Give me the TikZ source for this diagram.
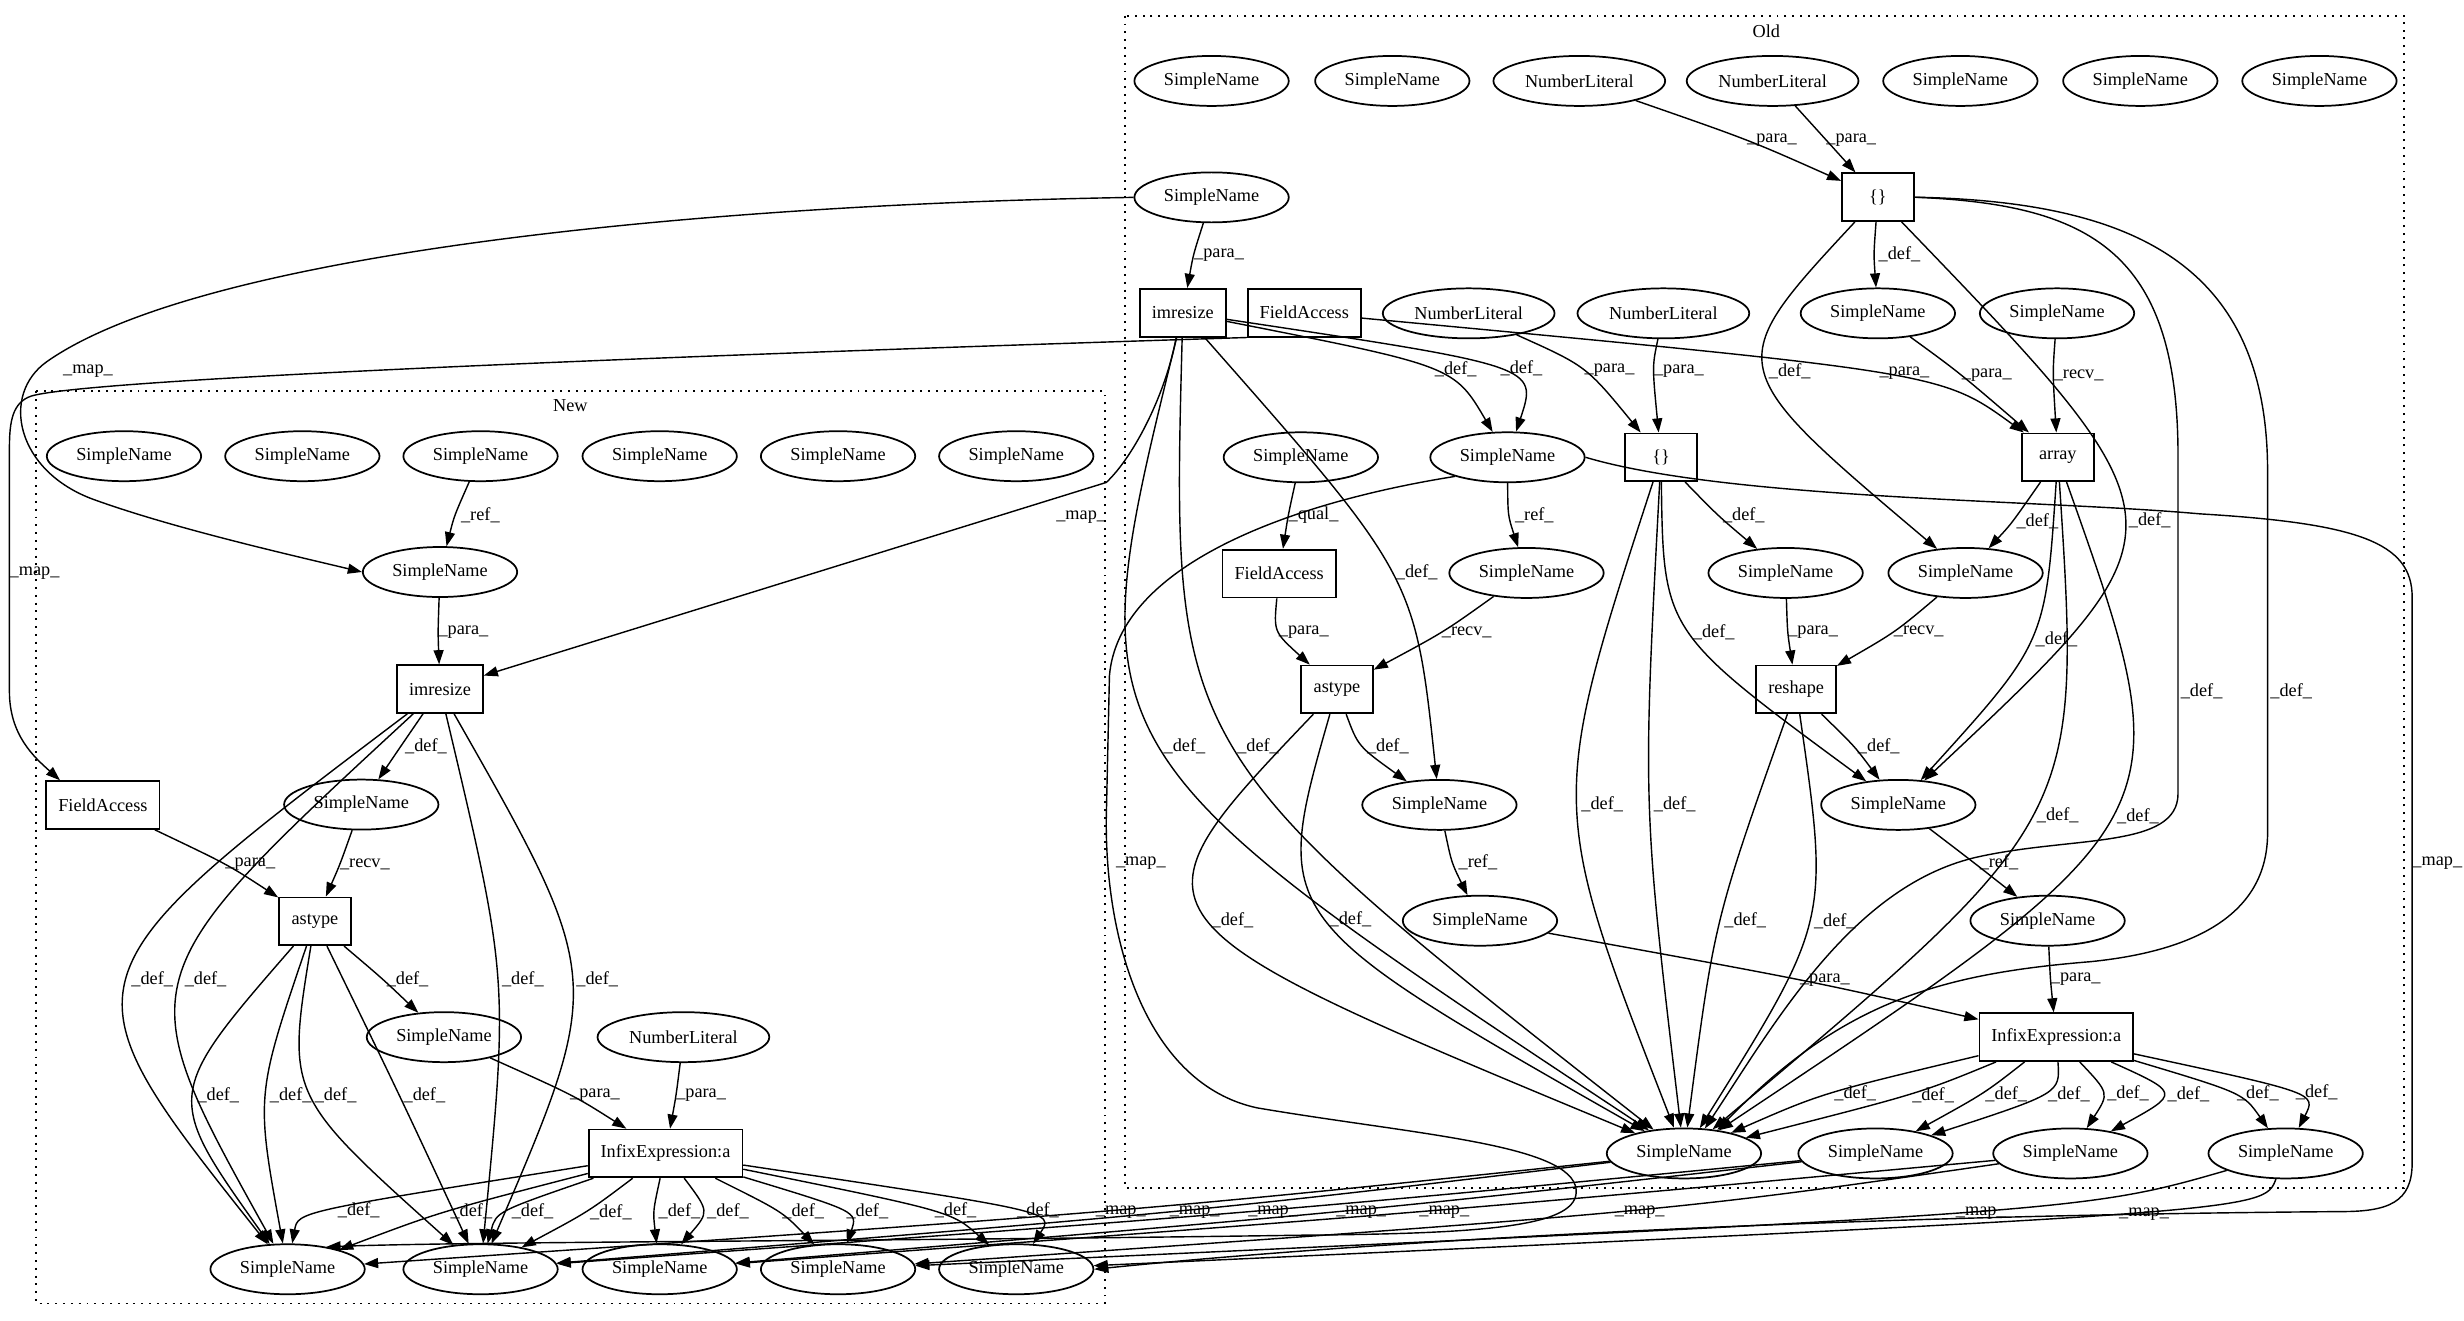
\documentclass[tikz,border=0pt]{standalone}
\usepackage{fontspec}
\setmainfont{Liberation Serif}
\usetikzlibrary{calc,arrows.meta,shapes.geometric}
\tikzset{
  every node/.style={font=\fontsize{8.4}{10}\selectfont},
  tok/.style={ellipse,draw,line width=0.8pt,minimum width=71pt,minimum height=23pt,inner sep=0pt},
  lit/.style={tok,minimum width=79pt},
  op/.style={rectangle,draw,line width=0.8pt,minimum width=33pt,minimum height=22pt,inner xsep=5.5pt,inner ysep=0pt},
  dep/.style={line width=0.65pt,-{Triangle[length=6.5pt,width=4.6pt]}},
  lbl/.style={midway,inner sep=0pt,xshift=11.6pt},
  tag/.style={inner sep=0pt},
  cluster/.style={line width=0.9pt,dash pattern=on 0.9pt off 2.7pt},
  thru/.style={to path={.. controls ($1.3333*(#1)+(-21.3,0)-0.16667*(\tikztostart)-0.16667*(\tikztotarget)$) .. (\tikztotarget) \tikztonodes}},
}
\begin{document}
\begin{tikzpicture}[x=0.0254cm,y=-0.0254cm]
  \useasboundingbox (0,0) rectangle (1568,840);
  \draw[cluster] (716,10) rectangle (1530,756);
  \draw[cluster] (23,249) rectangle (703,829.5);
  \node (oldtitle) at (1124,20) {Old};
  \node (newtitle) at (363,258) {New};

  \node[tok] (o1) at (771,51.5) {SimpleName};
  \node[tok] (o2) at (886,51.5) {SimpleName};
  \node[lit] (onl1) at (1005,51.5) {NumberLiteral};
  \node[lit] (onl2) at (1128,51.5) {NumberLiteral};
  \node[tok] (o3) at (1247.5,51.5) {SimpleName};
  \node[tok] (o4) at (1362,51.5) {SimpleName};
  \node[tok] (o5) at (1476,51.5) {SimpleName};
  \node[tok] (osnA) at (771,125.6) {SimpleName};
  \node[op] (obr1) at (1195,125.5) {\{\}};
  \node[op] (oimr) at (752.7,199) {imresize};
  \node[op] (ofa1) at (830,199) {FieldAccess};
  \node[lit] (onl3) at (934.6,199.4) {NumberLiteral};
  \node[lit] (onl4) at (1058.5,199.4) {NumberLiteral};
  \node[tok] (osnB) at (1195,199.4) {SimpleName};
  \node[tok] (osnC) at (1309,199.4) {SimpleName};
  \node[tok] (osnD) at (827.8,291) {SimpleName};
  \node[tok] (osnE) at (959.3,291) {SimpleName};
  \node[op] (obr2) at (1057,291) {\{\}};
  \node[op] (oarr) at (1309.5,291) {array};
  \node[op] (ofa2) at (814,365) {FieldAccess};
  \node[tok] (osnF) at (971.4,364.6) {SimpleName};
  \node[tok] (osnG) at (1136.3,364.6) {SimpleName};
  \node[tok] (osnH) at (1250.8,364.6) {SimpleName};
  \node[op] (oast) at (850.8,438.7) {astype};
  \node[op] (oresh) at (1143,438.7) {reshape};
  \node[tok] (osnI) at (916,512.2) {SimpleName};
  \node[tok] (osnJ) at (1208,512.2) {SimpleName};
  \node[tok] (osnK) at (941.8,585.9) {SimpleName};
  \node[tok] (osnL) at (1303,585.9) {SimpleName};
  \node[op] (oinf) at (1308.5,660) {InfixExpression:a};
  \node[tok] (ob1) at (1071.6,734) {SimpleName};
  \node[tok] (ob2) at (1193.5,734) {SimpleName};
  \node[tok] (ob3) at (1317.5,734) {SimpleName};
  \node[tok] (ob4) at (1454.5,734) {SimpleName};

  \node[tok] (n1) at (78.9,290.3) {SimpleName};
  \node[tok] (n2) at (192.4,290.3) {SimpleName};
  \node[tok] (n3) at (305.8,290.3) {SimpleName};
  \node[tok] (n4) at (419.8,290.3) {SimpleName};
  \node[tok] (n5) at (533.3,290.3) {SimpleName};
  \node[tok] (n6) at (646.7,290.3) {SimpleName};
  \node[tok] (nsnA) at (280,364) {SimpleName};
  \node[op] (nimr) at (280,438.5) {imresize};
  \node[op] (nfa) at (65.5,512.3) {FieldAccess};
  \node[tok] (nsnB) at (229.9,512) {SimpleName};
  \node[op] (nast) at (200.4,586.3) {astype};
  \node[tok] (nsnC) at (282.5,660) {SimpleName};
  \node[lit] (nnl) at (434.9,660) {NumberLiteral};
  \node[op] (ninf) at (423.5,734) {InfixExpression:a};
  \node[tok] (nb1) at (183,807.7) {SimpleName};
  \node[tok] (nb2) at (305.8,807.7) {SimpleName};
  \node[tok] (nb3) at (419.8,807.7) {SimpleName};
  \node[tok] (nb4) at (533.3,807.7) {SimpleName};
  \node[tok] (nb5) at (646.7,807.7) {SimpleName};

  \draw[dep] (onl1) to[thru={1126,89}] node[lbl]{\_para\_} (obr1);
  \draw[dep] (onl2) to[thru={1178,89}] node[lbl]{\_para\_} (obr1);
  \draw[dep] (osnA) to[thru={776,162}] node[lbl]{\_para\_} (oimr);
  \draw[dep] (obr1) to[thru={1209,162}] node[lbl]{\_def\_} (osnB);
  \draw[dep] (obr1) to[thru={1143,236}] node[lbl]{\_def\_} (osnH);
  \draw[dep] (obr1) to[thru={1364,331}] node[lbl]{\_def\_} (osnJ);
  \draw[dep] (obr1.east) .. controls (1330,130) and (1386,160) .. (1386,290) -- (1386,505)
    .. controls (1386,540) and (1320,532) .. (1260,545)
    .. controls (1180,562) and (1130,650) .. (ob1.50)
    node[tag] at (1401,440) {\_def\_};
  \draw[dep] (obr1.east) .. controls (1360,128) and (1443,170) .. (1443,300) -- (1443,530)
    .. controls (1443,580) and (1400,605) .. (1330,612)
    .. controls (1230,620) and (1170,640) .. (ob1.35)
    node[tag] at (1458,440) {\_def\_};
  \draw[dep] (onl3) to[thru={1022,236}] node[lbl]{\_para\_} (obr2);
  \draw[dep] (onl4) to[thru={1069,236}] node[lbl]{\_para\_} (obr2);
  \draw[dep] (oimr) to[thru={924,236}] node[lbl]{\_def\_} (osnE);
  \draw[dep] (oimr) to[thru={964,236}] node[lbl]{\_def\_} (osnE);
  \draw[dep] (ofa1) to[thru={1210,239}] node[lbl]{\_para\_} (oarr);
  \draw[dep] (osnB) to[thru={1264,239}] node[lbl]{\_para\_} (oarr);
  \draw[dep] (osnC) to[thru={1323,239}] node[lbl]{\_recv\_} (oarr);
  \draw[dep] (oimr) to[thru={900,364}] node[lbl]{\_def\_} (osnI);
  \draw[dep] (oimr) to[thru={757,475}] node[lbl]{\_def\_} (ob1);
  \draw[dep] (oimr) to[thru={803,475}] node[lbl]{\_def\_} (ob1);
  \draw[dep] (osnD) to[thru={836,328}] node[lbl]{\_qual\_} (ofa2);
  \draw[dep] (osnE) to[thru={977,328}] node[lbl]{\_ref\_} (osnF);
  \draw[dep] (obr2) to[thru={1110,328}] node[lbl]{\_def\_} (osnG);
  \draw[dep] (obr2) to[thru={1093,402}] node[lbl]{\_def\_} (osnJ);
  \draw[dep] (obr2) to[thru={1021,512}] node[lbl]{\_def\_} (ob1);
  \draw[dep] (obr2) to[thru={1066,512}] node[lbl]{\_def\_} (ob1);
  \draw[dep] (oarr) to[thru={1296,332}] node[lbl]{\_def\_} (osnH);
  \draw[dep] (oarr) to[thru={1307,407}] node[lbl]{\_def\_} (osnJ);
  \draw[dep] (oarr) to[thru={1307,519}] node[lbl]{\_def\_} (ob1);
  \draw[dep] (oarr) to[thru={1357,519}] node[lbl]{\_def\_} (ob1);
  \draw[dep] (ofa2) to[thru={832,402}] node[lbl]{\_para\_} (oast);
  \draw[dep] (osnF) to[thru={933,402}] node[lbl]{\_recv\_} (oast);
  \draw[dep] (osnG) to[thru={1154,402}] node[lbl]{\_para\_} (oresh);
  \draw[dep] (osnH) to[thru={1220,402}] node[lbl]{\_recv\_} (oresh);
  \draw[dep] (oast) to[thru={885,475}] node[lbl]{\_def\_} (osnI);
  \draw[dep] (oast) to[thru={790,585}] node[lbl]{\_def\_} (ob1);
  \draw[dep] (oast) to[thru={863,585}] node[lbl]{\_def\_} (ob1);
  \draw[dep] (oresh) to[thru={1195,475}] node[lbl]{\_def\_} (osnJ);
  \draw[dep] (oresh) to[thru={1111,586}] node[lbl]{\_def\_} (ob1);
  \draw[dep] (oresh) to[thru={1166,586}] node[lbl]{\_def\_} (ob1);
  \draw[dep] (osnI) to[thru={941,549}] node[lbl]{\_ref\_} (osnK);
  \draw[dep] (osnJ) to[thru={1272,549}] node[lbl]{\_ref\_} (osnL);
  \draw[dep] (osnK) to[thru={1162,624}] node[lbl]{\_para\_} (oinf);
  \draw[dep] (osnL) to[thru={1321,623}] node[lbl]{\_para\_} (oinf);
  \draw[dep] (oinf) to[thru={1183,696}] node[lbl]{\_def\_} (ob1);
  \draw[dep] (oinf) to[thru={1230,696}] node[lbl]{\_def\_} (ob1);
  \draw[dep] (oinf) to[thru={1276,696}] node[lbl]{\_def\_} (ob2);
  \draw[dep] (oinf) to[thru={1312,696}] node[lbl]{\_def\_} (ob2);
  \draw[dep] (oinf) to[thru={1351,696}] node[lbl]{\_def\_} (ob3);
  \draw[dep] (oinf) to[thru={1385,696}] node[lbl]{\_def\_} (ob3);
  \draw[dep] (oinf) to[thru={1432,696}] node[lbl]{\_def\_} (ob4);
  \draw[dep] (oinf) to[thru={1467,696}] node[lbl]{\_def\_} (ob4);

  \draw[dep] (n3) to[thru={306,328}] node[lbl]{\_ref\_} (nsnA);
  \draw[dep] (nsnA) to[thru={295,402}] node[lbl]{\_para\_} (nimr);
  \draw[dep] (nimr) to[thru={271,475}] node[lbl]{\_def\_} (nsnB);
  \draw[dep] (nimr) to[thru={101,623}] node[lbl]{\_def\_} (nb1);
  \draw[dep] (nimr) to[thru={134,623}] node[lbl]{\_def\_} (nb1);
  \draw[dep] (nimr) to[thru={332,623}] node[lbl]{\_def\_} (nb2);
  \draw[dep] (nimr) to[thru={378,623}] node[lbl]{\_def\_} (nb2);
  \draw[dep] (nfa) to[thru={158,550}] node[lbl]{\_para\_} (nast);
  \draw[dep] (nsnB) to[thru={232,550}] node[lbl]{\_recv\_} (nast);
  \draw[dep] (nast) to[thru={259,623}] node[lbl]{\_def\_} (nsnC);
  \draw[dep] (nast) to[thru={142,697}] node[lbl]{\_def\_} (nb1);
  \draw[dep] (nast) to[thru={186,697}] node[lbl]{\_def\_} (nb1);
  \draw[dep] (nast) to[thru={216,697}] node[lbl]{\_def\_} (nb2);
  \draw[dep] (nast) to[thru={270,697}] node[lbl]{\_def\_} (nb2);
  \draw[dep] (nsnC) to[thru={378,697}] node[lbl]{\_para\_} (ninf);
  \draw[dep] (nnl) to[thru={446,697}] node[lbl]{\_para\_} (ninf);
  \draw[dep] (ninf) to[thru={234,771}] node[lbl]{\_def\_} (nb1);
  \draw[dep] (ninf) to[thru={302,771}] node[lbl]{\_def\_} (nb1);
  \draw[dep] (ninf) to[thru={344,771}] node[lbl]{\_def\_} (nb2);
  \draw[dep] (ninf) to[thru={388,771}] node[lbl]{\_def\_} (nb2);
  \draw[dep] (ninf) to[thru={433,771}] node[lbl]{\_def\_} (nb3);
  \draw[dep] (ninf) to[thru={460,771}] node[lbl]{\_def\_} (nb3);
  \draw[dep] (ninf) to[thru={509,771}] node[lbl]{\_def\_} (nb4);
  \draw[dep] (ninf) to[thru={545,771}] node[lbl]{\_def\_} (nb4);
  \draw[dep] (ninf) to[thru={604,771}] node[lbl]{\_def\_} (nb5);
  \draw[dep] (ninf) to[thru={653,771}] node[lbl]{\_def\_} (nb5);

  \draw[dep] (osnA.west) .. controls (450,130) and (130,160) .. (30,230)
    .. controls (0,251) and (10,300) .. (60,318)
    .. controls (110,336) and (180,352) .. (nsnA.west)
    node[tag] at (56,236) {\_map\_};
  \draw[dep] (ofa1.south west) .. controls (500,224) and (60,240) .. (20,252)
    .. controls (8,256) and (6,268) .. (6,285) -- (6,440)
    .. controls (6,468) and (22,482) .. (nfa.150)
    node[tag] at (22,365) {\_map\_};
  \draw[dep] (oimr.255) .. controls (742,250) and (722,290) .. (704,307) -- (nimr)
    node[tag] at (688,329) {\_map\_};
  \draw[dep] (osnE.200) .. controls (820,320) and (712,360) .. (706,430) -- (704,520)
    .. controls (703,600) and (730,690) .. (800,705)
    .. controls (900,722) and (1000,728) .. (1003,757)
    .. controls (1005,780) and (950,785) .. (830,786)
    .. controls (560,790) and (300,790) .. (nb1.30)
    node[tag] at (726,549) {\_map\_};
  \draw[dep] (osnE.east) .. controls (1100,318) and (1300,318) .. (1400,327)
    .. controls (1500,333) and (1535,345) .. (1535,380) -- (1535,740)
    .. controls (1535,765) and (1520,771) .. (1490,771)
    .. controls (1100,774) and (820,795) .. (nb5.east)
    node[tag] at (1551,549) {\_map\_};
  \draw[dep] (ob1) to[thru={713,771}] node[lbl]{\_map\_} (nb1);
  \draw[dep] (ob1) to[thru={760,771}] node[lbl]{\_map\_} (nb2);
  \draw[dep] (ob2) to[thru={810,771}] node[lbl]{\_map\_} (nb2);
  \draw[dep] (ob2) to[thru={866,771}] node[lbl]{\_map\_} (nb3);
  \draw[dep] (ob3) to[thru={919,771}] node[lbl]{\_map\_} (nb3);
  \draw[dep] (ob3) to[thru={1043,771}] node[lbl]{\_map\_} (nb4);
  \draw[dep] (ob4) to[thru={1259,771}] node[lbl]{\_map\_} (nb4);
  \draw[dep] (ob4) to[thru={1359,771}] node[lbl]{\_map\_} (nb5);
\end{tikzpicture}
\end{document}
